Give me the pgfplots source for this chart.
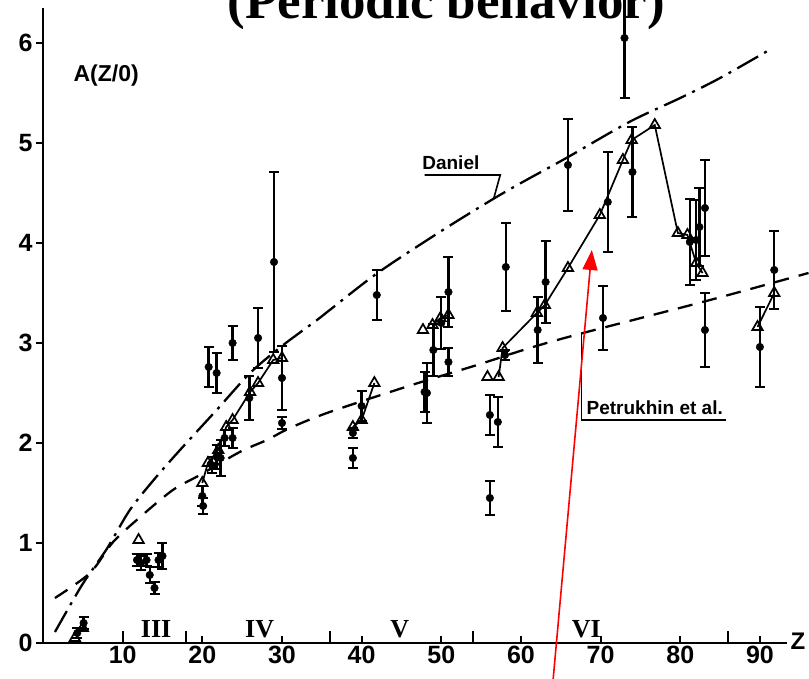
\documentclass[border=0pt]{standalone}
\usepackage{fontspec}
\setmainfont{Liberation Serif}
\setsansfont{Liberation Sans}
\usepackage{pgfplots}
\pgfplotsset{compat=1.18}
\usetikzlibrary{arrows.meta}

\pgfplotsset{
  tri/.style={black, line width=1.7pt, mark=triangle, mark size=6pt,
    mark options={fill=white, solid, line width=1.7pt}},
  err/.style={black, only marks, mark=*, mark size=3.8pt,
    error bars/.cd, y dir=both, y explicit,
    error bar style={line width=2.4pt},
    error mark options={rotate=90, mark size=5pt, line width=2.4pt}},
}

\begin{document}
\begin{tikzpicture}
\begin{axis}[
  scale only axis, width=744pt, height=635pt,
  xmin=0, xmax=93.4, ymin=0, ymax=6.35,
  axis lines=left,
  axis line style={line width=2.6pt, -},
  clip=false,
  tick align=inside,
  xtick={10,20,...,90}, ytick={0,1,...,6},
  major tick length=7pt,
  tick style={line width=1.8pt, black},
  y tick style={xshift=-7pt},
  extra x ticks={10,18,36,54,86},
  extra x tick labels={},
  extra x tick style={major tick length=12pt},
  /pgf/number format/assume math mode=true,
  xticklabel style={font=\sffamily\bfseries\fontsize{25}{25}\selectfont, yshift=0pt},
  yticklabel style={font=\sffamily\bfseries\fontsize{25}{25}\selectfont, xshift=-7pt},
]

% Daniel (dash-dot)
\addplot[black, line width=2.3pt, smooth, dash pattern=on 24pt off 7pt on 3pt off 7pt]
coordinates {(1.5,0.11) (4.9,0.58) (8,0.94) (10.9,1.33) (14,1.64) (17.2,1.93)
 (21.8,2.33) (26,2.7) (30,2.97) (34.4,3.23) (36,3.33) (42,3.7) (50,4.12)
 (56.3,4.43) (60,4.6) (65.7,4.85) (73.6,5.21) (80,5.45) (85,5.65) (91.6,5.95)};

% Petrukhin et al. (dashed)
\addplot[black, line width=2.3pt, smooth, dash pattern=on 15pt off 10pt]
coordinates {(1.5,0.45) (5.9,0.7) (8.8,1.01) (12.2,1.26) (16.3,1.53) (19.7,1.68)
 (24.7,1.91) (28.1,2.03) (31,2.15) (36,2.31) (46.3,2.58) (54.5,2.78)
 (61.1,2.95) (67.8,3.1) (82.8,3.41) (96.1,3.7)};

% data with error bars (filled circles)
\addplot[err] coordinates {
 (4.3,0.10) +- (0,0.05) (5.1,0.20) +- (0,0.06)
 (11.8,0.83) +- (0,0.06) (12.3,0.80) +- (0,0.07) (13.0,0.83) +- (0,0.06)
 (13.4,0.68) +- (0,0.08) (14.0,0.55) +- (0,0.06) (14.5,0.83) +- (0,0.07)
 (15.0,0.87) +- (0,0.13)
 (20.0,1.47) +- (0,0.10) (20.1,1.37) +- (0,0.08) (21.2,1.78) +- (0,0.08)
 (21.8,1.86) +- (0,0.12) (22.3,1.85) +- (0,0.18) (22.8,2.05) +- (0,0.08)
 (23.8,2.05) +- (0,0.10) (20.8,2.76) +- (0,0.20) (21.8,2.70) +- (0,0.20)
 (23.8,3.00) +- (0,0.17) (25.9,2.45) +- (0,0.22) (27.0,3.05) +- (0,0.30)
 (29.0,3.81) +- (0,0.90) (30.0,2.65) +- (0,0.32) (30.0,2.20) +- (0,0.06)
 (38.9,2.10) +- (0,0.05) (38.9,1.85) +- (0,0.10) (40.0,2.37) +- (0,0.15)
 (41.9,3.48) +- (0,0.25) (47.9,2.51) +- (0,0.20) (48.2,2.50) +- (0,0.30)
 (49.0,2.93) +- (0,0.26) (50.0,3.20) +- (0,0.26) (50.9,3.51) +- (0,0.35)
 (50.9,2.81) +- (0,0.14)
 (56.1,2.28) +- (0,0.20) (57.1,2.21) +- (0,0.25) (56.1,1.45) +- (0,0.17)
 (58.0,2.88) +- (0,0.05) (58.1,3.76) +- (0,0.44) (62.1,3.13) +- (0,0.33)
 (63.1,3.61) +- (0,0.41) (65.9,4.78) +- (0,0.46) (70.3,3.25) +- (0,0.32)
 (70.9,4.41) +- (0,0.50) (73.0,6.05) +- (0,0.60) (74.0,4.71) +- (0,0.45)
 (81.2,4.01) +- (0,0.43) (82.0,4.03) +- (0,0.40) (82.4,4.16) +- (0,0.39)
 (83.1,4.35) +- (0,0.48) (83.1,3.13) +- (0,0.37)
 (90.0,2.96) +- (0,0.40) (91.8,3.73) +- (0,0.39)
};

% open triangles joined by lines
\addplot[tri, only marks] coordinates {(4.0,0.05) (5.0,0.15) (12.0,1.03) (47.7,3.13) (55.8,2.66)};
\addplot[tri] coordinates {(20,1.6) (20.7,1.8) (22,1.93) (23,2.16) (23.8,2.23)
 (26,2.51) (27,2.6) (28.9,2.83) (30,2.85)};
\addplot[tri] coordinates {(38.9,2.16) (40,2.23) (41.6,2.6)};
\addplot[tri] coordinates {(48.9,3.18) (49.9,3.25) (50.9,3.28)};
\addplot[tri] coordinates {(57.2,2.66) (57.7,2.95) (62,3.3) (63,3.38) (65.9,3.75)
 (69.9,4.28) (72.8,4.83) (73.9,5.03) (76.8,5.18) (79.7,4.1) (80.9,4.08)
 (82,3.8) (82.8,3.7)};
\addplot[tri] coordinates {(89.7,3.16) (91.8,3.5)};

% labels and leaders
\node[anchor=base west, font=\sffamily\bfseries\fontsize{23}{23}\selectfont] at (axis cs:3.4,5.61) {A(Z/0)};
\node[anchor=base, font=\sffamily\bfseries\fontsize{19}{19}\selectfont] at (axis cs:51.2,4.73) {Daniel};
\draw[line width=1.6pt] (axis cs:47.9,4.68) -- (axis cs:57.4,4.68) -- (axis cs:56.6,4.45);
\node[anchor=base, font=\sffamily\bfseries\fontsize{19}{19}\selectfont] at (axis cs:76.8,2.28) {Petrukhin et al.};
\draw[line width=1.6pt] (axis cs:85.8,2.23) -- (axis cs:67.6,2.23) -- (axis cs:67.6,3.1);

\node[anchor=base, font=\bfseries\fontsize{26}{26}\selectfont] at (axis cs:14.2,0.05) {III};
\node[anchor=base, font=\bfseries\fontsize{26}{26}\selectfont] at (axis cs:27.2,0.05) {IV};
\node[anchor=base, font=\bfseries\fontsize{26}{26}\selectfont] at (axis cs:44.8,0.05) {V};
\node[anchor=base, font=\bfseries\fontsize{26}{26}\selectfont] at (axis cs:68.2,0.05) {VI};

\node[anchor=west, font=\sffamily\bfseries\fontsize{24}{24}\selectfont] at (axis cs:93.4,0.02) {Z};

\node[anchor=base, font=\bfseries\fontsize{53}{53}\selectfont] at (axis cs:50.6,6.24) {(Periodic behavior)};

\draw[red, line width=1.6pt, -{Triangle[length=20pt,width=15pt]}] (axis cs:64.0,-0.40) -- (axis cs:68.9,3.93);
\end{axis}
\pgfresetboundingbox
\path[use as bounding box] (-43pt,-36pt) rectangle (766pt,643pt);
\end{tikzpicture}
\end{document}
